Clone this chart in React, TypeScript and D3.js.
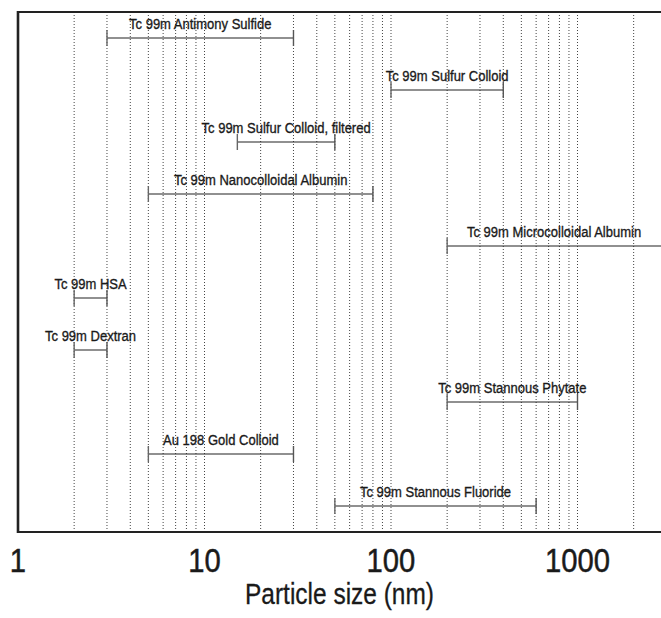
import React from 'react';
import * as d3 from 'd3';

// particle size ranges (nm) of the radiocolloids, top to bottom
const agents = [
  'Tc 99m Antimony Sulfide',
  'Tc 99m Sulfur Colloid',
  'Tc 99m Sulfur Colloid, filtered',
  'Tc 99m Nanocolloidal Albumin',
  'Tc 99m Microcolloidal Albumin',
  'Tc 99m HSA',
  'Tc 99m Dextran',
  'Tc 99m Stannous Phytate',
  'Au 198 Gold Colloid',
  'Tc 99m Stannous Fluoride',
];
const minSize = [3, 100, 15, 5, 200, 2, 2, 200, 5, 50];
const maxSize = [30, 400, 50, 80, 3000, 3, 3, 1000, 30, 600];

const tickValues = [1, 10, 100, 1000];
const axisTitle = 'Particle size (nm)';

const W = 661;
const H = 618;
const left = 18;
const top = 12;
const bottom = 532;
const decade = 186.5;
const font = "'Liberation Sans', Arial, Helvetica, sans-serif";

const App = () => {
  const x = d3.scaleLog()
    .domain([1, 3000])
    .range([left, left + decade * Math.log10(3000)]);
  const y = d3.scaleBand()
    .domain(agents)
    .range([top, bottom]);

  const gridValues = x.ticks().filter(d => d > 1);
  const visibleMax = x.invert(W);

  const rows = agents.map((name, i) => {
    const lo = minSize[i];
    const hi = maxSize[i];
    const cy = y(name) + y.bandwidth() / 2;
    const mid = Math.sqrt(lo * Math.min(hi, visibleMax));
    return { name, x1: x(lo), x2: x(hi), cy, lx: x(mid) };
  });

  return (
    <svg width={W} height={H} style={{ position: 'absolute', left: 0, top: 0, background: '#fff' }}
      fontFamily={font}>
      {/* dotted gridlines */}
      <g className='grid'>
        {gridValues.map(v => (
          <line key={v} x1={x(v)} x2={x(v)} y1={top} y2={bottom}
            stroke='#444' strokeWidth={1} strokeDasharray='1,2' />
        ))}
      </g>

      {/* range bars */}
      <g className='bars'>
        {rows.map(r => (
          <g key={r.name}>
            <line x1={r.x1} x2={r.x2} y1={r.cy} y2={r.cy} stroke='#222' strokeWidth={1.2} />
            <line x1={r.x1} x2={r.x1} y1={r.cy - 8} y2={r.cy + 8} stroke='#666' strokeWidth={1.4} />
            <line x1={r.x2} x2={r.x2} y1={r.cy - 8} y2={r.cy + 8} stroke='#555' strokeWidth={1.4} />
            <text transform={`translate(${r.lx},${r.cy - 9}) scale(0.84,1)`}
              textAnchor='middle' fontSize={15.5} fill='#1a1a1a'
              stroke='#1a1a1a' strokeWidth={0.35}>{r.name}</text>
          </g>
        ))}
      </g>

      {/* frame */}
      <line x1={left} x2={W} y1={top} y2={top} stroke='#222' strokeWidth={2} />
      <line x1={left} x2={left} y1={top - 1} y2={bottom + 1} stroke='#222' strokeWidth={2.6} />
      <line x1={left} x2={W} y1={bottom} y2={bottom} stroke='#222' strokeWidth={2} />

      {/* axis labels */}
      <g className='x-axis'>
        {tickValues.map(v => (
          <text key={v} transform={`translate(${x(v)},572) scale(0.86,1)`}
            textAnchor='middle' fontSize={34} fill='#1a1a1a'
            stroke='#1a1a1a' strokeWidth={0.5}>{v}</text>
        ))}
      </g>
      <text transform={`translate(${(left + W) / 2},604) scale(0.83,1)`}
        textAnchor='middle' fontSize={29.5} fill='#1a1a1a'
        stroke='#1a1a1a' strokeWidth={0.3}>{axisTitle}</text>
    </svg>
  );
};

export default App;
